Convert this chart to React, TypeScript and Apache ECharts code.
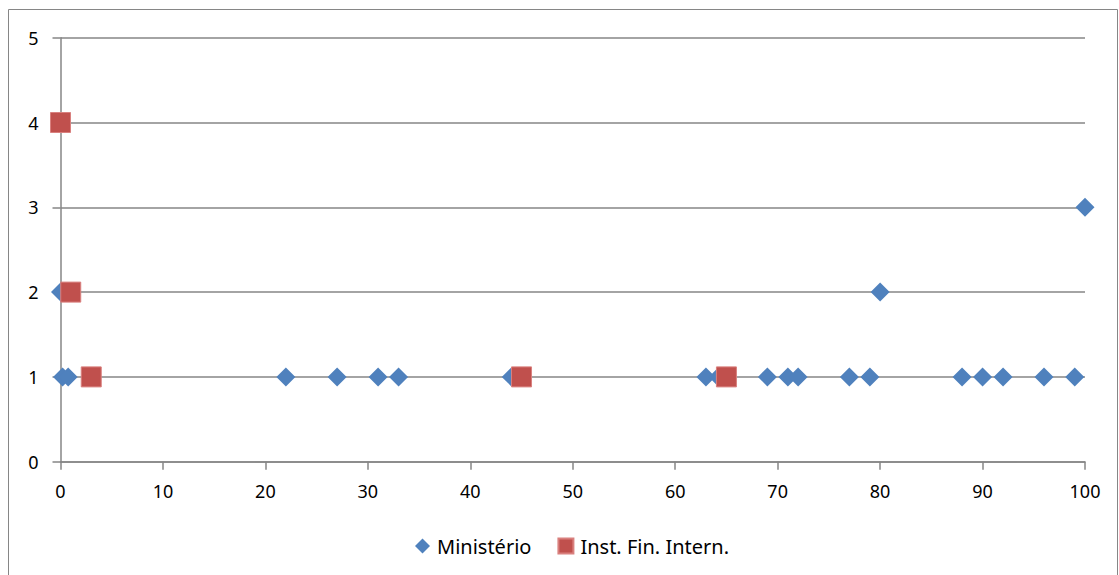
import React, { useEffect, useRef } from "react";
import * as echarts from "echarts";

// Ministério points: [x, y]
const ministerioX = [0, 0.2, 0.75, 22, 27, 31, 33, 44, 63, 64.2, 69, 71, 72, 77, 79, 80, 88, 90, 92, 96, 99, 100];
const ministerioY = [2, 1, 1, 1, 1, 1, 1, 1, 1, 1, 1, 1, 1, 1, 1, 2, 1, 1, 1, 1, 1, 3];

// Inst. Fin. Intern. points: [x, y]
const instFinX = [0, 1, 3, 45, 65];
const instFinY = [4, 2, 1, 1, 1];

const xTicks = [0, 10, 20, 30, 40, 50, 60, 70, 80, 90, 100];
const yTicks = [0, 1, 2, 3, 4, 5];

const FONT = "'Noto Sans', 'Open Sans', sans-serif";
const GRID_COLOR = "#868686";

export default function App() {
  const ref = useRef<HTMLDivElement>(null);

  useEffect(() => {
    if (!ref.current) return;
    const chart = echarts.init(ref.current, undefined, { renderer: "svg" });
    const pair = (xs: number[], ys: number[]) => xs.map((x, i) => [x, ys[i]]);

    chart.setOption({
      animation: false,
      backgroundColor: "#ffffff",
      textStyle: { fontFamily: FONT },
      graphic: [
        {
          type: "rect",
          shape: { x: 8.5, y: 9.5, width: 1109, height: 570 },
          style: { fill: "none", stroke: GRID_COLOR, lineWidth: 1 },
          silent: true,
        },
      ],
      grid: { left: 60.5, right: 34, top: 37.7, bottom: 113.3 },
      legend: {
        bottom: 14,
        left: 410,
        itemGap: 26,
        itemWidth: 15,
        itemHeight: 15,
        textStyle: { fontSize: 20, color: "#000", fontFamily: FONT, padding: [0, 0, 0, 2] },
        data: [
          { name: "Ministério", icon: "diamond" },
          { name: "Inst. Fin. Intern.", icon: "rect" },
        ],
      },
      xAxis: {
        type: "value",
        min: xTicks[0],
        max: xTicks[xTicks.length - 1],
        interval: 10,
        axisLine: { show: true, onZero: false, lineStyle: { color: GRID_COLOR, width: 1.5 } },
        axisTick: { show: true, length: 8, lineStyle: { color: GRID_COLOR, width: 1.5 } },
        axisLabel: { color: "#000", fontSize: 18, margin: 20, fontFamily: FONT },
        splitLine: { show: false },
      },
      yAxis: {
        type: "value",
        min: yTicks[0],
        max: yTicks[yTicks.length - 1],
        interval: 1,
        axisLine: { show: true, onZero: false, lineStyle: { color: GRID_COLOR, width: 1.5 } },
        axisTick: { show: true, length: 8, lineStyle: { color: GRID_COLOR, width: 1.5 } },
        axisLabel: { color: "#000", fontSize: 18, margin: 22, fontFamily: FONT },
        splitLine: { show: true, lineStyle: { color: GRID_COLOR, width: 1.5 } },
      },
      series: [
        {
          name: "Ministério",
          type: "scatter",
          symbol: "diamond",
          symbolSize: 19,
          itemStyle: { color: "#4F81BD", opacity: 1 },
          data: pair(ministerioX, ministerioY),
          z: 2,
        },
        {
          name: "Inst. Fin. Intern.",
          type: "scatter",
          symbol: "rect",
          symbolSize: 20,
          itemStyle: { color: "#C0504D", borderColor: "#D9807E", borderWidth: 1, opacity: 1 },
          data: pair(instFinX, instFinY),
          z: 3,
        },
      ],
    });

    return () => chart.dispose();
  }, []);

  return (
    <div
      ref={ref}
      style={{ position: "absolute", left: 0, top: 0, width: 1119, height: 575 }}
    />
  );
}
